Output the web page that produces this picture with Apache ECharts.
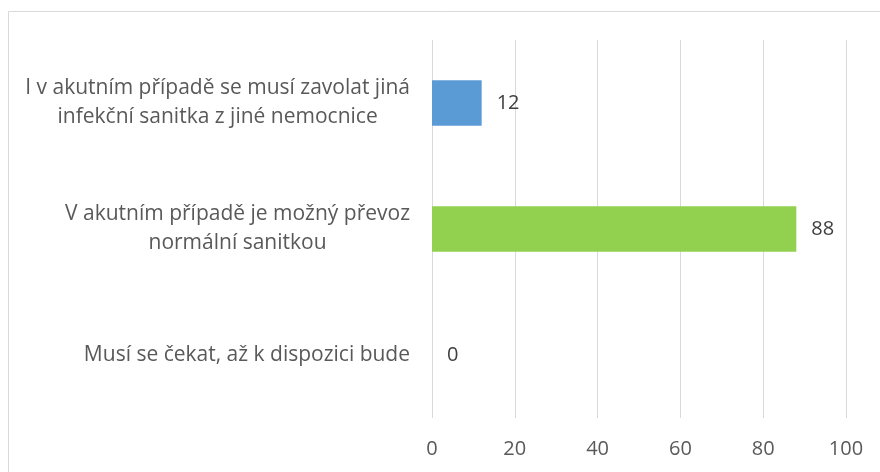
<!DOCTYPE html>
<html>
<head>
<meta charset="utf-8">
<script src="https://cdn.jsdelivr.net/npm/echarts@6/dist/echarts.min.js"></script>
<style>
    html, body { margin: 0; padding: 0; background: #fff; }
    #chart { width: 880px; height: 472px; }
</style>
</head>
<body>
<div id="chart"></div>
<script>
// data
const categories = [
    'Musí se čekat, až k dispozici bude',
    'V akutním případě je možný převoz\nnormální sanitkou',
    'I v akutním případě se musí zavolat jiná\ninfekční sanitka z jiné nemocnice'
];
const values = [0, 88, 12];
const barColors = ['#5B9BD5', '#92D050', '#5B9BD5'];
const xTicks = [0, 20, 40, 60, 80, 100];

const chart = echarts.init(document.getElementById('chart'));
const font = '"Open Sans", sans-serif';

const option = {
    animation: false,
    textStyle: { fontFamily: font },
    grid: { left: 432, right: 34, top: 40, bottom: 54 },
    graphic: [{
        type: 'rect',
        shape: { x: 8.5, y: 11.5, width: 900, height: 500 },
        style: { fill: 'none', stroke: '#D9D9D9', lineWidth: 1 },
        silent: true
    }],
    xAxis: {
        type: 'value',
        min: xTicks[0],
        max: xTicks[xTicks.length - 1],
        interval: 20,
        axisLine: { show: false },
        axisTick: { show: false },
        axisLabel: { color: '#595959', fontSize: 20, margin: 21, fontFamily: font },
        splitLine: { lineStyle: { color: '#D9D9D9', width: 1 } }
    },
    yAxis: {
        type: 'category',
        data: categories,
        axisLine: { show: false },
        axisTick: { show: false },
        axisLabel: {
            margin: 22,
            color: '#595959',
            fontSize: 21,
            lineHeight: 29,
            fontFamily: font,
            // lines centred inside a right-aligned block, like the original
            formatter: v => v.split('\n').map(s => '{c|' + s + '}').join('\n'),
            rich: { c: { align: 'center', color: '#595959', fontSize: 21, lineHeight: 29, fontFamily: font } }
        }
    },
    series: [{
        type: 'bar',
        data: values.map((v, i) => ({ value: v, itemStyle: { color: barColors[i] } })),
        barCategoryGap: '64%',
        label: {
            show: true,
            position: 'right',
            distance: 15,
            color: '#404040',
            fontSize: 20,
            fontFamily: font
        }
    }]
};

chart.setOption(option);
window.addEventListener('resize', () => chart.resize());
</script>
</body>
</html>
